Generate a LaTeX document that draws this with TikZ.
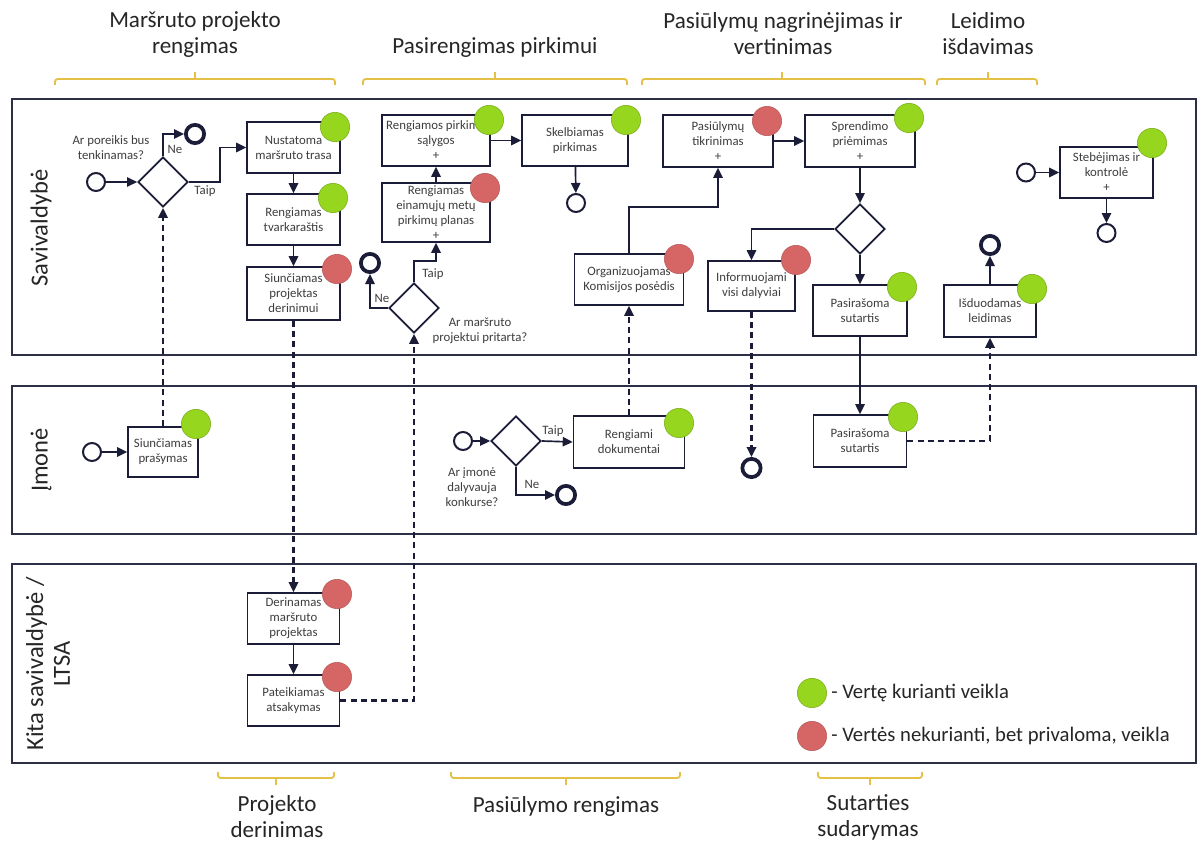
\documentclass[tikz,border=0pt]{standalone}
\usepackage{fontspec}
\setmainfont{Carlito}
\usetikzlibrary{shapes.geometric,arrows.meta,calc}

\definecolor{flow}{RGB}{27,29,56}
\definecolor{lane}{RGB}{45,47,70}
\definecolor{boxtext}{RGB}{62,62,62}
\definecolor{valgreen}{RGB}{150,214,30}
\definecolor{valred}{RGB}{214,102,102}
\definecolor{brace}{RGB}{228,192,70}

\begin{document}
\begin{tikzpicture}[x=0.75pt,y=-0.75pt,
  task/.style={draw=flow, line width=1.2pt, fill=white, text=boxtext, align=center,
    inner sep=0.5pt, font=\fontsize{9.6}{11.25}\selectfont},
  gate/.style={diamond, draw=flow, line width=1.3pt, fill=white, minimum width=37.5pt,
    minimum height=37.5pt, inner sep=0pt, aspect=1},
  thinev/.style={circle, draw=flow, line width=1.5pt, fill=white, minimum size=13.5pt, inner sep=0pt},
  thickev/.style={circle, draw=flow, line width=2.8pt, fill=white, minimum size=13.7pt, inner sep=0pt},
  flowline/.style={draw=flow, line width=1.25pt, -{Triangle[length=7.5pt,width=7pt]}},
  msgline/.style={flowline, line width=1.7pt, dash pattern=on 4.5pt off 3.2pt},
  good/.style={circle, fill=valgreen, draw=valgreen!80!black, line width=0.4pt, minimum size=22pt, inner sep=0pt},
  bad/.style={circle, fill=valred, draw=valred!85!black, line width=0.4pt, minimum size=22pt, inner sep=0pt},
  gatelabel/.style={text=boxtext, font=\fontsize{9.6}{11.25}\selectfont, align=center, inner sep=0pt},
  lanebox/.style={draw=lane, line width=1.5pt},
  lanename/.style={rotate=90, font=\fontsize{18.4}{20}\selectfont, text=black!85, align=center, inner sep=0pt},
  phase/.style={font=\fontsize{17.3}{19.5}\selectfont, text=black!85, align=center, inner sep=0pt},
  legendtext/.style={anchor=west, font=\fontsize{15.5}{18}\selectfont, text=black!85, inner sep=0pt},
  bracket/.style={draw=brace, line width=1.4pt, rounded corners=2pt},
]
\useasboundingbox (0,0) rectangle (1198,845);
\fill[white] (0,0) rectangle (1198,845);

% ---------- swimlanes ----------
\draw[lanebox] (12,99) rectangle (1196,355);
\draw[lanebox] (12,386) rectangle (1196,534);
\draw[lanebox] (12,564) rectangle (1196,763);
\node[lanename] (ln1) at (41,228) {Savivaldybė};
\node[lanename] (ln2) at (41,460) {Įmonė};
\node[lanename] (ln3) at (48,664) {Kita savivaldybė /\\LTSA};

% ---------- phase brackets and titles ----------
\node[phase] (ph1) at (195,34) {Maršruto projekto\\rengimas};
\node[phase] (ph2) at (495,47) {Pasirengimas pirkimui};
\node[phase] (ph3) at (783,34) {Pasiūlymų nagrinėjimas ir\\vertinimas};
\node[phase] (ph4) at (988,34) {Leidimo\\išdavimas};
\node[phase] (ph5) at (277,817) {Projekto\\derinimas};
\node[phase] (ph6) at (566,806) {Pasiūlymo rengimas};
\node[phase] (ph7) at (868,817) {Sutarties\\sudarymas};

\draw[bracket] (55,85) -- (55,79) -- (335,79) -- (335,85);
\draw[bracket] (195,79) -- (195,72);
\draw[bracket] (363,85) -- (363,79) -- (627,79) -- (627,85);
\draw[bracket] (495,79) -- (495,72);
\draw[bracket] (642,85) -- (642,79) -- (925,79) -- (925,85);
\draw[bracket] (782,79) -- (782,72);
\draw[bracket] (937,85) -- (937,79) -- (1037,79) -- (1037,85);
\draw[bracket] (988,79) -- (988,72);

\draw[bracket] (218,772) -- (218,778) -- (334,778) -- (334,772);
\draw[bracket] (276,778) -- (276,785);
\draw[bracket] (451,772) -- (451,778) -- (680,778) -- (680,772);
\draw[bracket] (566,778) -- (566,785);
\draw[bracket] (818,772) -- (818,778) -- (922,778) -- (922,772);
\draw[bracket] (870,778) -- (870,785);

% ---------- lane 1: Savivaldybe ----------
\node[thinev] (st1) at (96,182) {};
\node[gate] (gw1) at (163,182) {};
\node[thickev] (en1) at (195,134) {};
\node[gatelabel] (q1) at (111,148) {Ar poreikis bus\\tenkinamas?};
\node[gatelabel] (ne1) at (175,149) {Ne};
\node[gatelabel] (ta1) at (205,191) {Taip};

\node[task, minimum width=69.75pt, minimum height=38.25pt] (nust) at (293.5,147.5) {Nustatoma\\maršruto trasa};
\node[task, minimum width=69.75pt, minimum height=38.25pt] (tvark) at (293.5,219.5) {Rengiamas\\tvarkaraštis};
\node[task, minimum width=69.75pt, minimum height=39.75pt] (sprder) at (293.5,293.5) {Siunčiamas\\projektas\\derinimui};

\node[task, minimum width=81pt, minimum height=38.25pt] (salyg) at (436,140.5) {Rengiamos pirkimo\\sąlygos\\+};
\node[task, minimum width=81pt, minimum height=44.25pt] (planas) at (436,212.5) {Rengiamas\\einamųjų metų\\pirkimų planas\\+};
\node[task, minimum width=79.5pt, minimum height=38.25pt] (skelb) at (575,140.5) {Skelbiamas\\pirkimas};
\node[thinev] (en3) at (576,203) {};

\node[gate] (gw2) at (414,308) {};
\node[thickev] (en2) at (370,263) {};
\node[gatelabel] (ta2) at (433,274) {Taip};
\node[gatelabel] (ne2) at (382,298) {Ne};
\node[gatelabel] (q2) at (480,330.5) {Ar maršruto\\projektui pritarta?};

\node[task, minimum width=81.75pt, minimum height=38.25pt] (organ) at (629,279.5) {Organizuojamas\\Komisijos posėdis};
\node[task, minimum width=82.5pt, minimum height=39pt] (tikr) at (718,141) {Pasiūlymų\\tikrinimas\\+};
\node[task, minimum width=82.5pt, minimum height=39pt] (spr) at (860,141) {Sprendimo\\priėmimas\\+};
\node[gate] (gw4) at (860,229) {};
\node[task, minimum width=65.25pt, minimum height=37.5pt] (inform) at (751.5,286) {Informuojami\\visi dalyviai};
\node[task, minimum width=70.5pt, minimum height=38.25pt] (pasir1) at (860,310.5) {Pasirašoma\\sutartis};

\node[task, minimum width=69pt, minimum height=39pt] (isd) at (990,311) {Išduodamas\\leidimas};
\node[thickev] (en6) at (990,245) {};

\node[thinev] (stR) at (1026,172.5) {};
\node[task, minimum width=69.75pt, minimum height=38.25pt] (steb) at (1106.5,172.5) {Stebėjimas ir\\kontrolė\\+};
\node[thinev] (en7) at (1106.5,233) {};

% ---------- lane 2: Imone ----------
\node[thinev] (st2) at (92,452) {};
\node[task, minimum width=52.5pt, minimum height=37.5pt] (prasym) at (163,452) {Siunčiamas\\prašymas};

\node[thinev] (st3) at (463,441) {};
\node[gate] (gw3) at (516,441) {};
\node[gatelabel] (ta3) at (553,431) {Taip};
\node[gatelabel] (ne3) at (532,484) {Ne};
\node[gatelabel] (q3) at (472,487) {Ar įmonė\\dalyvauja\\konkurse?};
\node[thickev] (en4) at (566,495) {};
\node[task, minimum width=83.25pt, minimum height=39pt] (rengd) at (629,442) {Rengiami\\dokumentai};
\node[thickev] (en5) at (751.5,468) {};
\node[task, minimum width=70pt, minimum height=39pt] (pasir2) at (860,441) {Pasirašoma\\sutartis};

% ---------- lane 3: Kita savivaldybe / LTSA ----------
\node[task, minimum width=69pt, minimum height=38.25pt] (derin) at (293.5,618.5) {Derinamas\\maršruto\\projektas};
\node[task, minimum width=69pt, minimum height=38.25pt] (pateik) at (293.5,700.5) {Pateikiamas\\atsakymas};

% ---------- sequence flows ----------
\draw[flowline] (st1) -- (gw1.west);
\draw[flowline] (gw1.north) |- (en1.west);
\draw[flowline] (gw1.east) -- ++(31,0) |- (nust.west);
\draw[flowline] (nust) -- (tvark);
\draw[flowline] (tvark) -- (sprder);
\draw[flowline] (gw2.north) -- ++(0,-21) -| (planas.south);
\draw[flowline] (gw2.west) -| (en2.south);
\draw[flowline] (planas) -- (salyg);
\draw[flowline] (salyg) -- (skelb);
\draw[flowline] (skelb) -- (en3);
\draw[flowline] (organ.north) -- ++(0,-46) -| (tikr.south);
\draw[flowline] (tikr) -- (spr);
\draw[flowline] (spr) -- (gw4.north);
\draw[flowline] (gw4.west) -| (inform.north);
\draw[flowline] (gw4.south) -- (pasir1.north);
\draw[flowline] (pasir1) -- (pasir2);
\draw[flowline] (isd) -- (en6);
\draw[flowline] (stR) -- (steb);
\draw[flowline] (steb) -- (en7);
\draw[flowline] (st2) -- (prasym);
\draw[flowline] (st3) -- (gw3.west);
\draw[flowline] (gw3.east) -- (rengd.west);
\draw[flowline] (gw3.south) |- (en4.west);
\draw[flowline] (derin) -- (pateik);

% ---------- message flows ----------
\draw[msgline] (prasym.north) -- (gw1.south);
\draw[msgline] (sprder.south) -- (derin.north);
\draw[msgline] (pateik.east) -| (gw2.south);
\draw[msgline] (rengd.north) -- (organ.south);
\draw[msgline] (inform.south) -- (en5.north);
\draw[msgline] (pasir2.east) -| (isd.south);

% ---------- value markers ----------
\node[good] (c1) at (335,127) {};
\node[good] (c2) at (333,198) {};
\node[bad]  (c3) at (337,269) {};
\node[good] (c4) at (489,120) {};
\node[bad]  (c5) at (485,188) {};
\node[good] (c6) at (626,120) {};
\node[bad]  (c7) at (679,259) {};
\node[bad]  (c8) at (767,121) {};
\node[good] (c9) at (909,118) {};
\node[bad]  (c10) at (796,260) {};
\node[good] (c11) at (902,287) {};
\node[good] (c12) at (1152,143) {};
\node[good] (c13) at (1032,289) {};
\node[good] (c14) at (196,424) {};
\node[good] (c15) at (679,423) {};
\node[good] (c16) at (903,417) {};
\node[bad]  (c17) at (337,594) {};
\node[bad]  (c18) at (337,677) {};

% ---------- legend ----------
\node[good] (lg1) at (812,693) {};
\node[legendtext] (lt1) at (831,693) {- Vertę kurianti veikla};
\node[bad] (lg2) at (812,736) {};
\node[legendtext] (lt2) at (831,736) {- Vertės nekurianti, bet privaloma, veikla};
\end{tikzpicture}
\end{document}
